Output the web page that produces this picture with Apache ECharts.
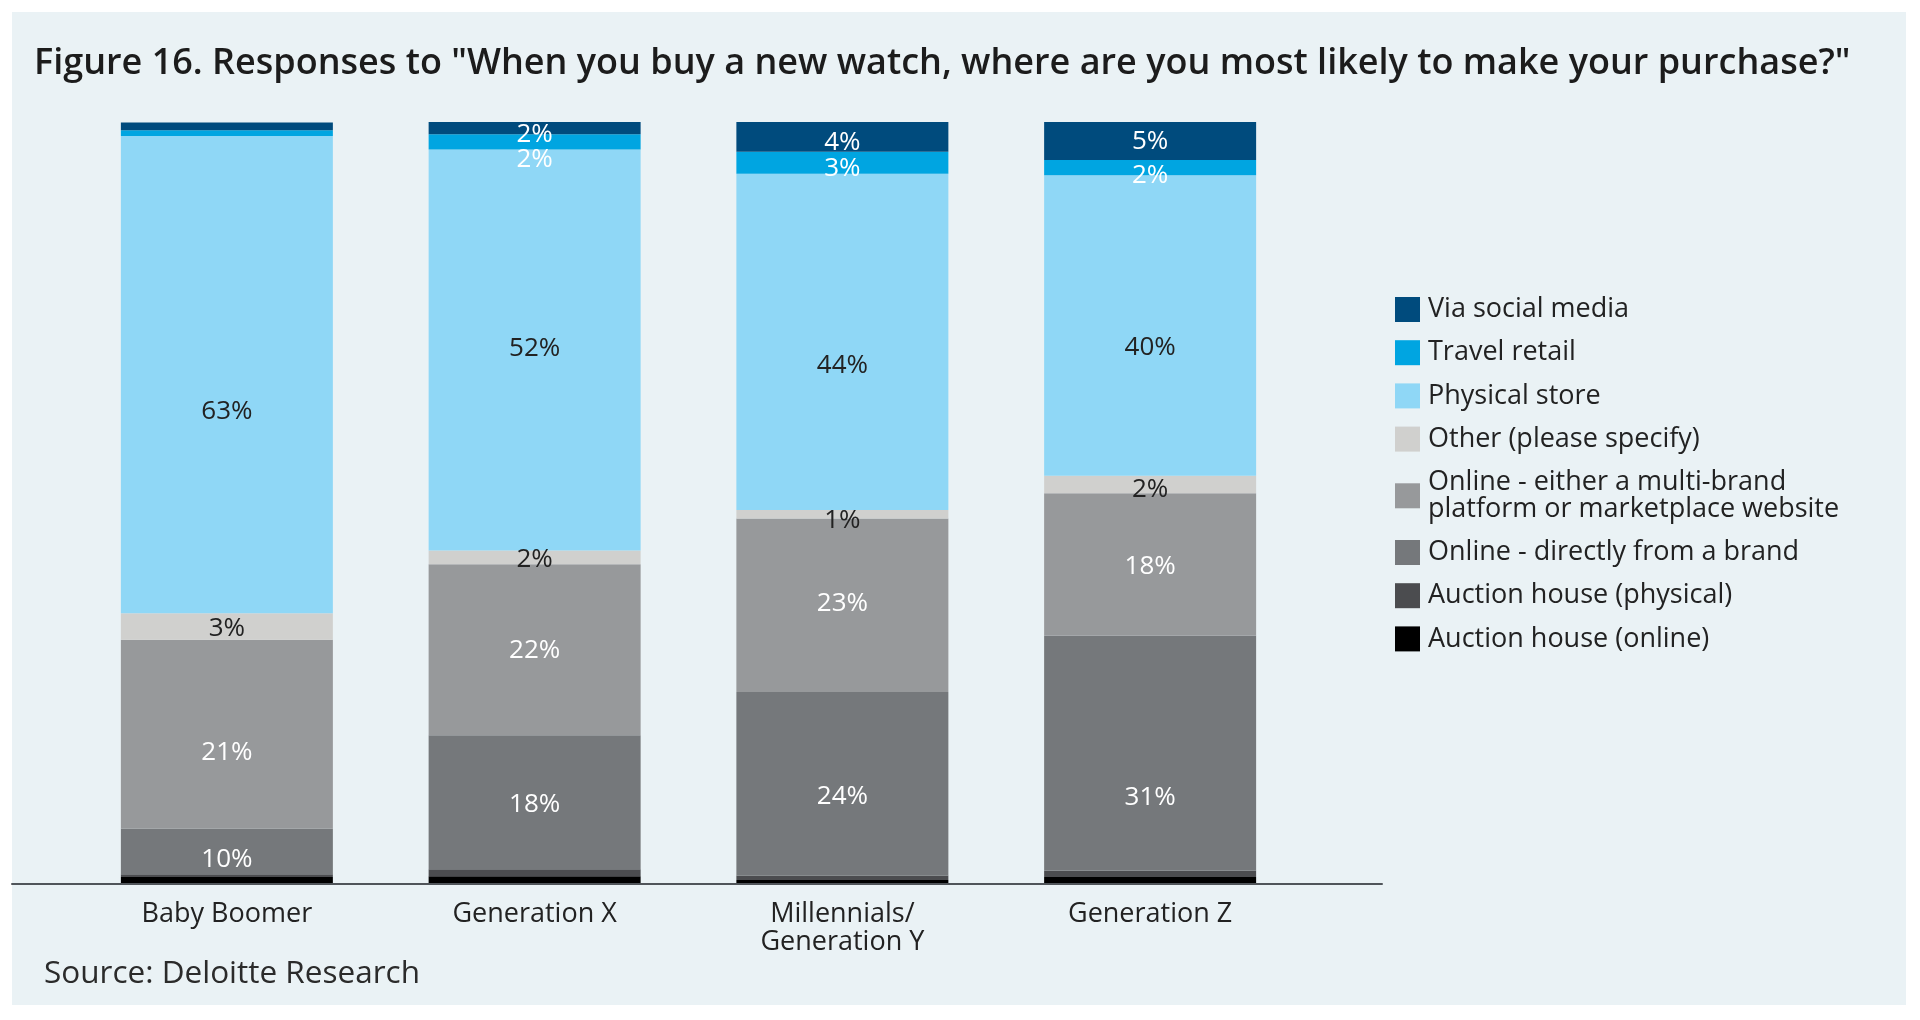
<!DOCTYPE html>
<html><head><meta charset="utf-8">
<script src="https://cdn.jsdelivr.net/npm/echarts@6/dist/echarts.min.js"></script>
<style>html,body{margin:0;padding:0;background:#fff;}#c{width:1920px;height:1020px;}</style>
</head><body><div id="c"></div>
<script>
// ---- data (percent of respondents) ----
const categories = ['Baby Boomer', 'Generation X', 'Millennials/\nGeneration Y', 'Generation Z'];
const viaSocialMedia   = [1.05, 1.6, 3.9, 5.0];
const travelRetail     = [0.75, 2.0, 2.9, 2.0];
const physicalStore    = [62.7, 52.7, 44.2, 39.5];
const otherSpecify     = [3.5, 1.8, 1.1, 2.3];
const onlineMultiBrand = [24.8, 22.5, 22.8, 18.7];
const onlineDirect     = [6.0, 17.6, 24.1, 30.9];
const auctionPhysical  = [0.35, 0.9, 0.6, 0.8];
const auctionOnline    = [0.8, 0.9, 0.4, 0.8];
// ---- printed data labels ----
const lblSocial   = ['', '2%', '4%', '5%'];
const lblTravel   = ['', '2%', '3%', '2%'];
const lblPhysical = ['63%', '52%', '44%', '40%'];
const lblOther    = ['3%', '2%', '1%', '2%'];
const lblMulti    = ['21%', '22%', '23%', '18%'];
const lblDirect   = ['10%', '18%', '24%', '31%'];

// ---- styling ----
const FONT = "'Open Sans', sans-serif";
const BASE_DY = 2;
const nudge = {
  social:   [0, 5, 4, -1],
  travel:   [0, 16, 4, 6],
  physical: [35, -3, 22, 20],
  other:    [0, 0, 4, 3],
  multi:    [16, -1, -4, 0],
  direct:   [6, 0, 11, 42]
};

function mk(name, data, color, labels, labelColor, nd) {
  const s = {
    name: name, type: 'bar', stack: 'total', data: data, barWidth: 212,
    xAxisIndex: 0, yAxisIndex: 0,
    itemStyle: { color: color },
    emphasis: { disabled: true },
    label: {
      show: !!labels, position: 'inside', color: labelColor,
      fontSize: 26, fontFamily: FONT,
      formatter: function (p) { return labels ? labels[p.dataIndex] : ''; }
    }
  };
  if (nd) s.labelLayout = function (p) { return { dy: BASE_DY + (nd[p.dataIndex] || 0) }; };
  return s;
}

const NAMES = {
  social: 'Via social media',
  travel: 'Travel retail',
  physical: 'Physical store',
  other: 'Other (please specify)',
  multi: 'Online - either a multi-brand platform or marketplace website',
  direct: 'Online - directly from a brand',
  aphys: 'Auction house (physical)',
  aonline: 'Auction house (online)'
};

const series = [
  mk(NAMES.aonline, auctionOnline, '#000000', null, '#fff', null),
  mk(NAMES.aphys, auctionPhysical, '#4B4C4F', null, '#fff', null),
  mk(NAMES.direct, onlineDirect, '#75787B', lblDirect, '#ffffff', nudge.direct),
  mk(NAMES.multi, onlineMultiBrand, '#97999B', lblMulti, '#ffffff', nudge.multi),
  mk(NAMES.other, otherSpecify, '#D0D0CE', lblOther, '#222222', nudge.other),
  mk(NAMES.physical, physicalStore, '#8FD7F6', lblPhysical, '#222222', nudge.physical),
  mk(NAMES.travel, travelRetail, '#00A5E1', lblTravel, '#ffffff', nudge.travel),
  mk(NAMES.social, viaSocialMedia, '#004B7D', lblSocial, '#ffffff', nudge.social)
];

const chart = echarts.init(document.getElementById('c'), null, { renderer: 'canvas' });
chart.setOption({
  backgroundColor: '#ffffff',
  animation: false,
  graphic: [{
    type: 'rect', left: 12, top: 12, z: -10, silent: true,
    shape: { width: 1894, height: 993 },
    style: { fill: '#EAF2F5' }
  }],
  title: [{
    text: 'Figure 16. Responses to "When you buy a new watch, where are you most likely to make your purchase?"',
    left: 34, top: 43, padding: 0,
    textStyle: { fontSize: 36, fontWeight: 600, fontFamily: FONT, color: '#1c1c1c', lineHeight: 42 }
  }, {
    text: 'Source: Deloitte Research',
    left: 44, top: 955, padding: 0,
    textStyle: { fontSize: 31.5, fontWeight: 'normal', fontFamily: FONT, color: '#2b2b2b', lineHeight: 38 }
  }],
  legend: {
    orient: 'vertical', left: 1395, top: 296, padding: 0,
    itemWidth: 25, itemHeight: 25, itemGap: 16.2, icon: 'rect',
    selectedMode: false,
    data: [NAMES.social, NAMES.travel, NAMES.physical, NAMES.other, NAMES.multi, NAMES.direct, NAMES.aphys, NAMES.aonline],
    formatter: function (n) { return n.replace(' platform', '\nplatform'); },
    textStyle: { fontSize: 27, lineHeight: 27, color: '#222222', fontFamily: FONT, padding: [0, 0, 0, 3] }
  },
  grid: [
    { left: 73, right: 616, top: 122, bottom: 137 },
    { left: 12, right: 538, top: 122, bottom: 136 }
  ],
  xAxis: [{
    type: 'category', gridIndex: 0, data: categories,
    axisLine: { show: false }, axisTick: { show: false },
    axisLabel: { fontSize: 27, lineHeight: 28, color: '#222222', fontFamily: FONT, margin: 17 }
  }, {
    type: 'value', gridIndex: 1, min: 0, max: 1,
    axisLine: { show: true, onZero: false, lineStyle: { color: '#50555A', width: 2 } },
    axisTick: { show: false }, axisLabel: { show: false }, splitLine: { show: false }
  }],
  yAxis: [
    { type: 'value', gridIndex: 0, min: 0, max: 100, show: false },
    { type: 'value', gridIndex: 1, min: 0, max: 1, show: false }
  ],
  series: series
});
</script>
</body></html>
